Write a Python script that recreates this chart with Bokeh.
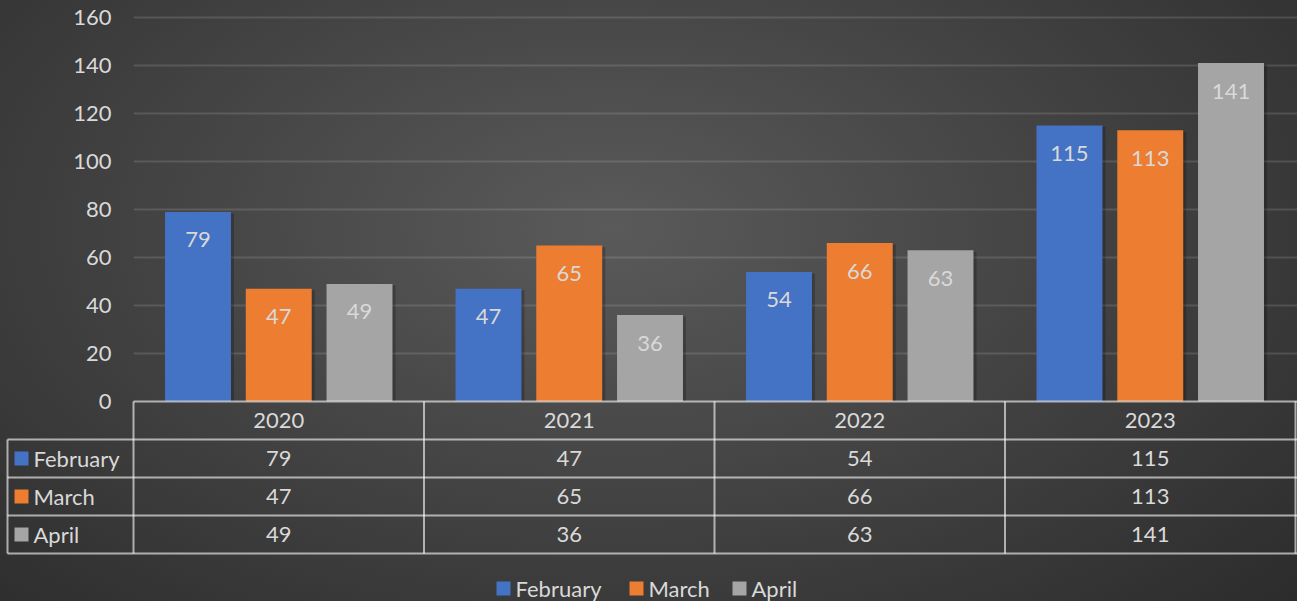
import numpy as np
from bokeh.plotting import figure
from bokeh.models import Range1d, FixedTicker, ColumnDataSource
from bokeh.embed import file_html
from bokeh.resources import INLINE
from bokeh.core.properties import value

# ---------------- data ----------------
years = ["2020", "2021", "2022", "2023"]
series_names = ["February", "March", "April"]
february = [79, 47, 54, 115]
march = [47, 65, 66, 113]
april = [49, 36, 63, 141]
y_ticks = [0, 20, 40, 60, 80, 100, 120, 140, 160]
series_values = [february, march, april]
colors = ["#4472c4", "#ed7d31", "#a5a5a5"]

# ---------------- layout constants ----------------
FONT = "Lato"
TXT = "#d9d9d9"
FS = "22px"
W, H = 1297, 601
CAT_PX = 290.5          # pixels per category
LEFT_PX = 133           # left border (y-axis area)
FRAME_H = 401           # frame height (top of canvas to zero line)
Y_PX = 2.4              # pixels per value unit
ROW_PX = 38.0           # table row height
offsets = [-0.278, 0.0, 0.278]
bar_w = 0.227
LEGEND_KEY_PX = [503, 636, 739]   # legend key centres (page px)
LEGEND_Y_PX = 588                 # legend centre line (page px)

x_end = (W - LEFT_PX) / CAT_PX
x_tbl_left = -(LEFT_PX - 7) / CAT_PX
idx = np.arange(len(years))
row_u = ROW_PX / Y_PX
line_kw = dict(line_color="white", line_alpha=0.6, line_width=2, level="overlay")
txt_kw = dict(text_font=value(FONT), text_font_size=FS, text_color=TXT,
              text_baseline="middle", level="overlay")

p = figure(width=W, height=H,
           x_range=Range1d(0, x_end),
           y_range=Range1d(0, FRAME_H / Y_PX),
           output_backend="svg", toolbar_location=None,
           x_axis_location=None,
           min_border_left=LEFT_PX, min_border_right=0,
           min_border_top=0, min_border_bottom=H - FRAME_H,
           background_fill_color=None, border_fill_color=None,
           outline_line_color=None)
p.styles = {"background": "radial-gradient(ellipse 75% 95% at 47% 38%, "
                          "#5a5a5a 0%, #444444 45%, #2a2a2a 100%)"}

p.yaxis.ticker = FixedTicker(ticks=y_ticks)
p.yaxis.axis_line_color = None
p.yaxis.major_tick_line_color = None
p.yaxis.minor_tick_line_color = None
p.yaxis.major_tick_out = 0
p.yaxis.major_tick_in = 0
p.yaxis.major_label_standoff = 22
p.yaxis.major_label_text_font = FONT
p.yaxis.major_label_text_font_size = FS
p.yaxis.major_label_text_color = TXT
p.ygrid.grid_line_color = "white"
p.ygrid.grid_line_alpha = 0.13
p.ygrid.grid_line_width = 2
p.xgrid.visible = False

# ---------------- bars ----------------
for name, vals, col, off in zip(series_names, series_values, colors, offsets):
    src = ColumnDataSource(dict(x=idx + 0.5 + off, top=vals,
                                label=[str(v) for v in vals]))
    # soft shadow
    p.vbar(x=idx + 0.5 + off + 3 / CAT_PX, top=np.array(vals) - 1.5 / Y_PX,
           bottom=0, width=bar_w, fill_color="black", fill_alpha=0.22,
           line_color=None)
    p.vbar(x="x", top="top", bottom=0, width=bar_w, source=src,
           fill_color=col, line_color=None)
    p.text(x="x", y="top", text="label", source=src, y_offset=28,
           text_align="center", text_baseline="middle",
           text_font=value(FONT), text_font_size=FS, text_color=TXT)

# ---------------- data table ----------------
n_rows = len(series_names)
edges = list(range(len(years) + 1))
# header row
p.segment(x0=[0], y0=[0], x1=[x_end], y1=[0], **line_kw)
p.segment(x0=edges, y0=[0] * len(edges), x1=edges,
          y1=[-row_u * (n_rows + 1)] * len(edges), **line_kw)
p.text(x=idx + 0.5, y=[-row_u / 2] * len(years), text=years,
       text_align="center", **txt_kw)
# series rows
hy = [-row_u * (r + 1) for r in range(n_rows + 1)]
p.segment(x0=[x_tbl_left] * len(hy), y0=hy, x1=[x_end] * len(hy), y1=hy, **line_kw)
p.segment(x0=[x_tbl_left], y0=[-row_u], x1=[x_tbl_left],
          y1=[-row_u * (n_rows + 1)], **line_kw)

key_x = x_tbl_left + 14 / CAT_PX
name_x = x_tbl_left + 26 / CAT_PX
for r, (name, vals, col) in enumerate(zip(series_names, series_values, colors)):
    yc = -row_u * (r + 1.5)
    p.rect(x=[key_x], y=[yc], width=14, height=14,
           width_units="screen", height_units="screen",
           fill_color=col, line_color=None, level="overlay")
    p.text(x=[name_x], y=[yc], text=[name], text_align="left", **txt_kw)
    p.text(x=idx + 0.5, y=[yc] * len(vals), text=[str(v) for v in vals],
           text_align="center", **txt_kw)

# ---------------- legend (below the table) ----------------
leg_x = [(px - LEFT_PX) / CAT_PX for px in LEGEND_KEY_PX]
leg_y = (FRAME_H - LEGEND_Y_PX) / Y_PX
p.rect(x=leg_x, y=[leg_y] * len(leg_x), width=14, height=14,
       width_units="screen", height_units="screen",
       fill_color=colors, line_color=None, level="overlay")
p.text(x=leg_x, y=[leg_y] * len(leg_x), text=series_names, x_offset=12,
       text_align="left", **txt_kw)

open("out.html", "w").write(file_html(p, INLINE))
